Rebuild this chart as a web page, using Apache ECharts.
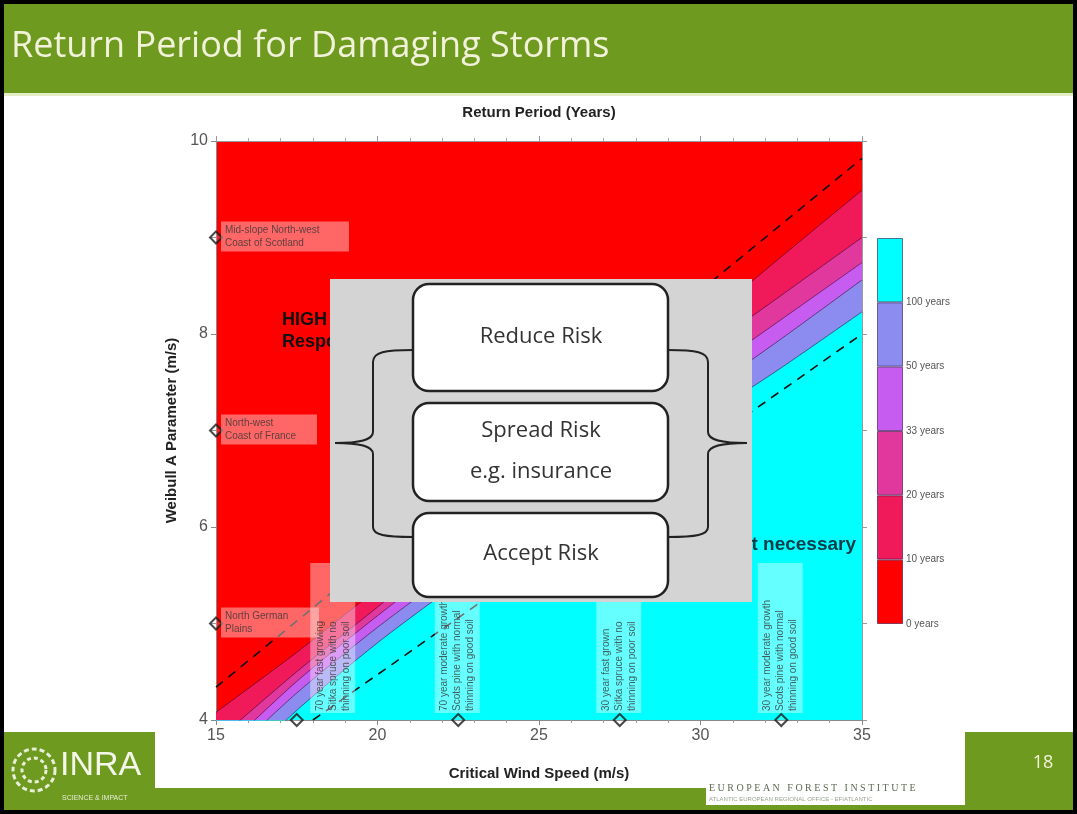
<!DOCTYPE html>
<html>
<head>
<meta charset="utf-8">
<title>Return Period for Damaging Storms</title>
<script src="https://cdn.jsdelivr.net/npm/echarts@6/dist/echarts.min.js"></script>
<style>
  html, body { margin: 0; padding: 0; background: #fff; }
  #chart { width: 1077px; height: 814px; }
</style>
</head>
<body>
<div id="chart"></div>
<script>
// critical wind speeds (m/s) at which the contours were read
var windSpeeds = [15, 17.5, 20, 22.5, 25, 27.5, 30, 32.5, 35];
// Weibull A parameter of each return period contour at those speeds
var contour10 = [4.08, 4.70, 5.36, 6.02, 6.70, 7.40, 8.10, 8.80, 9.49];
var contour20 = [3.78, 4.50, 5.17, 5.85, 6.50, 7.15, 7.80, 8.40, 9.00];
var contour33 = [3.62, 4.40, 5.08, 5.72, 6.34, 6.95, 7.56, 8.15, 8.74];
var contour50 = [3.50, 4.28, 4.96, 5.58, 6.18, 6.77, 7.36, 7.95, 8.56];
var contour100 = [3.30, 4.10, 4.80, 5.42, 5.98, 6.54, 7.10, 7.65, 8.23];
// the two dashed guide lines [wind speed, weibull A]
var upperDashed = [[15, 4.34], [35, 9.82]];
var lowerDashed = [[18, 4.0], [35, 8.0]];
// sites on the weibull axis
var siteNames = ['Mid-slope North-west\nCoast of Scotland', 'North-west\nCoast of France', 'North German\nPlains'];
var siteWeibull = [9, 7, 5];
// stand types on the wind speed axis
var standNames = [
  '70 year fast growing\nSitka spruce with no\nthinning on poor soil',
  '70 year moderate growth\nScots pine with normal\nthinning on good soil',
  '30 year fast grown\nSitka spruce with no\nthinning on poor soil',
  '30 year moderate growth\nScots pine with normal\nthinning on good soil'
];
var standWind = [17.5, 22.5, 27.5, 32.5];
// colour bar tick labels
var bandLabels = ['0 years', '10 years', '20 years', '33 years', '50 years', '100 years'];

var bandColors = ['#ff0000', '#f0195a', '#e0389c', '#c65cf0', '#8c8cf0', '#00ffff'];
var siteBoxWidths = [120, 88, 90];
var axisFont = 'Liberation Sans';

var chart = echarts.init(document.getElementById('chart'));

var contours = [contour10, contour20, contour33, contour50, contour100];
var contourSeries = contours.map(function (c, i) {
  return {
    type: 'line',
    xAxisIndex: 0,
    yAxisIndex: 0,
    data: windSpeeds.map(function (x, j) { return [x, c[j]]; }),
    symbol: 'none',
    smooth: 0.25,
    silent: true,
    lineStyle: { color: 'rgba(50,0,40,0.55)', width: 1 },
    areaStyle: { color: bandColors[i + 1], opacity: 1, origin: 'start' }
  };
});

var dashStyle = { color: '#111', width: 1.6, type: [9, 7] };

var labelText = { fontSize: 10, color: '#363636', fontFamily: axisFont, lineHeight: 13 };

var siteData = siteNames.map(function (n, i) {
  return { name: n, value: [15, siteWeibull[i]], label: { width: siteBoxWidths[i] } };
});
var standData = standNames.map(function (n, i) {
  var item = { name: n, value: [standWind[i], 4] };
  if (i === 0) item.label = { position: [43, 0] };
  return item;
});

var barSeries = bandLabels.map(function (l, i) {
  return {
    type: 'bar',
    xAxisIndex: 2,
    yAxisIndex: 2,
    stack: 'bar',
    barWidth: '100%',
    silent: true,
    data: [1],
    itemStyle: { color: bandColors[i], borderColor: 'rgba(40,0,60,0.55)', borderWidth: 1 }
  };
});

// curly brace drawn from lines and bezier pieces
function brace(xEnd, xBar, xTip, yTop, yMid, yBot) {
  var d = xEnd > xBar ? 1 : -1;
  var st = { fill: 'none', stroke: '#222', lineWidth: 2 };
  return [
    { type: 'bezierCurve', z: 101, shape: { x1: xEnd, y1: yTop, cpx1: xBar + 12 * d, cpy1: yTop, cpx2: xBar, cpy2: yTop + 2, x2: xBar, y2: yTop + 12 }, style: st },
    { type: 'line', z: 101, shape: { x1: xBar, y1: yTop + 12, x2: xBar, y2: yMid - 11 }, style: st },
    { type: 'bezierCurve', z: 101, shape: { x1: xBar, y1: yMid - 11, cpx1: xBar, cpy1: yMid - 3, cpx2: xBar - 13 * d, cpy2: yMid, x2: xTip, y2: yMid }, style: st },
    { type: 'bezierCurve', z: 101, shape: { x1: xTip, y1: yMid, cpx1: xBar - 13 * d, cpy1: yMid, cpx2: xBar, cpy2: yMid + 3, x2: xBar, y2: yMid + 11 }, style: st },
    { type: 'line', z: 101, shape: { x1: xBar, y1: yMid + 11, x2: xBar, y2: yBot - 10 }, style: st },
    { type: 'bezierCurve', z: 101, shape: { x1: xBar, y1: yBot - 10, cpx1: xBar, cpy1: yBot - 2, cpx2: xBar + 12 * d, cpy2: yBot, x2: xEnd, y2: yBot }, style: st }
  ];
}

var option = {
  animation: false,
  textStyle: { fontFamily: axisFont },
  grid: [
    { left: 216, right: 215, top: 141, bottom: 94, show: true, backgroundColor: '#ff0000', borderWidth: 0 },
    { left: 877, top: 238, width: 26, height: 386 }
  ],
  xAxis: [
    {
      type: 'value', gridIndex: 0, min: 15, max: 35, interval: 5, position: 'bottom',
      axisLine: { show: true, lineStyle: { color: '#888' } },
      axisTick: { show: true, length: 5, lineStyle: { color: '#888' } },
      minorTick: { show: true, splitNumber: 5, length: 3, lineStyle: { color: '#999' } },
      splitLine: { show: false },
      axisLabel: { fontSize: 16, color: '#555', margin: 8 },
      name: 'Critical Wind Speed (m/s)', nameLocation: 'middle', nameGap: 46,
      nameTextStyle: { fontSize: 15, fontWeight: 'bold', color: '#222' }
    },
    {
      type: 'value', gridIndex: 0, min: 15, max: 35, interval: 5, position: 'top',
      axisLine: { show: true, lineStyle: { color: '#999' } },
      axisTick: { show: true, length: 5, lineStyle: { color: '#999' } },
      minorTick: { show: true, splitNumber: 5, length: 3, lineStyle: { color: '#aaa' } },
      splitLine: { show: false },
      axisLabel: { show: false },
      name: 'Return Period (Years)', nameLocation: 'middle', nameGap: 21,
      nameTextStyle: { fontSize: 15, fontWeight: 'bold', color: '#222' }
    },
    { type: 'category', gridIndex: 1, data: ['bar'], show: false }
  ],
  yAxis: [
    {
      type: 'value', gridIndex: 0, min: 4, max: 10, interval: 1, position: 'left',
      axisLine: { show: true, lineStyle: { color: '#888' } },
      axisTick: { show: true, length: 5, lineStyle: { color: '#888' } },
      splitLine: { show: false },
      axisLabel: { fontSize: 16, color: '#555', margin: 8, formatter: function (v) { return v % 2 === 0 ? v : ''; } },
      name: 'Weibull A Parameter (m/s)', nameLocation: 'middle', nameGap: 36,
      nameTextStyle: { fontSize: 15, fontWeight: 'bold', color: '#222' }
    },
    {
      type: 'value', gridIndex: 0, min: 4, max: 10, interval: 1, position: 'right',
      axisLine: { show: true, lineStyle: { color: '#999' } },
      axisTick: { show: true, length: 5, lineStyle: { color: '#999' } },
      splitLine: { show: false },
      axisLabel: { show: false }
    },
    {
      type: 'value', gridIndex: 1, min: 0, max: 6, interval: 1, position: 'right',
      axisLine: { show: false }, axisTick: { show: false }, splitLine: { show: false },
      axisLabel: { fontSize: 10, color: '#555', margin: 3, formatter: function (v) { return bandLabels[v] || ''; } }
    }
  ],
  series: contourSeries.concat([
    { type: 'line', data: upperDashed, symbol: 'none', silent: true, lineStyle: dashStyle, z: 3 },
    { type: 'line', data: lowerDashed, symbol: 'none', silent: true, lineStyle: dashStyle, z: 3 },
    {
      type: 'scatter', data: siteData, symbol: 'diamond', symbolSize: 12, clip: false, z: 5,
      itemStyle: { color: 'rgba(255,255,255,0.15)', borderColor: '#1a1a1a', borderWidth: 2 },
      label: Object.assign({
        show: true, position: [12, 6], align: 'left', verticalAlign: 'middle',
        formatter: '{b}', backgroundColor: 'rgba(255,255,255,0.5)', padding: [2, 4]
      }, labelText)
    },
    {
      type: 'scatter', data: standData, symbol: 'diamond', symbolSize: 12, clip: false, z: 5,
      itemStyle: { color: 'rgba(255,255,255,0.15)', borderColor: '#1a1a1a', borderWidth: 2 },
      label: Object.assign({
        show: true, position: [6, 0], align: 'left', verticalAlign: 'middle', rotate: 90,
        formatter: '{b}', backgroundColor: 'rgba(255,255,255,0.5)', padding: [3, 2], width: 146
      }, labelText)
    }
  ]).concat(barSeries),
  graphic: [
    // slide title bar
    { type: 'rect', z: 100, shape: { x: 0, y: 0, width: 1077, height: 93 }, style: { fill: '#6e9a1f' } },
    { type: 'rect', z: 100, shape: { x: 0, y: 93, width: 1077, height: 3 }, style: { fill: '#e4edc4' } },
    { type: 'text', z: 101, style: { text: 'Return Period for Damaging Storms', x: 11, y: 47, fill: '#f2f2da', fontSize: 36, fontFamily: 'Open Sans', textVerticalAlign: 'middle' } },
    // text partly hidden by the overlay
    { type: 'text', z: 50, style: { text: 'HIGH RISK\nResponse necessary', x: 282, y: 309, fill: '#111', fontSize: 18, fontWeight: 'bold', fontFamily: axisFont, lineHeight: 22 } },
    { type: 'text', z: 50, style: { text: 'Response not necessary', x: 856, y: 545, fill: '#0d3b48', fontSize: 19, fontWeight: 'bold', fontFamily: axisFont, textAlign: 'right', textVerticalAlign: 'middle' } },
    // overlay with risk options
    { type: 'rect', z: 100, shape: { x: 330, y: 279, width: 422, height: 323 }, style: { fill: '#d4d4d4' } },
    { type: 'rect', z: 101, shape: { x: 413, y: 284, width: 255, height: 107, r: 16 }, style: { fill: '#fff', stroke: '#222', lineWidth: 2.5 } },
    { type: 'rect', z: 101, shape: { x: 413, y: 403, width: 255, height: 98, r: 16 }, style: { fill: '#fff', stroke: '#222', lineWidth: 2.5 } },
    { type: 'rect', z: 101, shape: { x: 413, y: 513, width: 255, height: 84, r: 16 }, style: { fill: '#fff', stroke: '#222', lineWidth: 2.5 } },
    { type: 'text', z: 102, style: { text: 'Reduce Risk', x: 541, y: 337, fill: '#333', fontSize: 22, fontFamily: 'Open Sans', textAlign: 'center', textVerticalAlign: 'middle' } },
    { type: 'text', z: 102, style: { text: 'Spread Risk', x: 541, y: 431, fill: '#333', fontSize: 22, fontFamily: 'Open Sans', textAlign: 'center', textVerticalAlign: 'middle' } },
    { type: 'text', z: 102, style: { text: 'e.g. insurance', x: 541, y: 472, fill: '#333', fontSize: 22, fontFamily: 'Open Sans', textAlign: 'center', textVerticalAlign: 'middle' } },
    { type: 'text', z: 102, style: { text: 'Accept Risk', x: 541, y: 554, fill: '#333', fontSize: 22, fontFamily: 'Open Sans', textAlign: 'center', textVerticalAlign: 'middle' } }
  ].concat(brace(413, 373, 335, 350, 443, 537), brace(668, 708, 747, 350, 443, 537), [
    // footer
    { type: 'rect', z: 100, shape: { x: 0, y: 732, width: 155, height: 82 }, style: { fill: '#6e9a1f' } },
    { type: 'rect', z: 100, shape: { x: 965, y: 732, width: 112, height: 82 }, style: { fill: '#6e9a1f' } },
    { type: 'rect', z: 99, shape: { x: 155, y: 788, width: 810, height: 26 }, style: { fill: '#6e9a1f' } },
    { type: 'rect', z: 101, shape: { x: 706, y: 778, width: 259, height: 27 }, style: { fill: '#fff' } },
    { type: 'text', z: 102, style: { text: 'E U R O P E A N   F O R E S T   I N S T I T U T E', x: 709, y: 788, fill: '#5b6b52', fontSize: 10, fontFamily: 'Liberation Serif', textVerticalAlign: 'middle' } },
    { type: 'text', z: 102, style: { text: 'ATLANTIC EUROPEAN REGIONAL OFFICE - EFIATLANTIC', x: 709, y: 799, fill: '#9aa394', fontSize: 6, fontFamily: axisFont, textVerticalAlign: 'middle' } },
    { type: 'text', z: 101, style: { text: '18', x: 1043, y: 763, fill: '#f2f2da', fontSize: 18, fontFamily: 'Open Sans', textAlign: 'center', textVerticalAlign: 'middle' } },
    { type: 'circle', z: 101, shape: { cx: 34, cy: 770, r: 21 }, style: { fill: 'none', stroke: '#e8eed8', lineWidth: 3, lineDash: [5, 3] } },
    { type: 'circle', z: 101, shape: { cx: 34, cy: 770, r: 12 }, style: { fill: 'none', stroke: '#e8eed8', lineWidth: 3, lineDash: [4, 3] } },
    { type: 'text', z: 101, style: { text: 'INRA', x: 60, y: 766, fill: '#f4f6ea', fontSize: 34, fontFamily: 'Liberation Sans Narrow, Liberation Sans', textVerticalAlign: 'middle' } },
    { type: 'text', z: 101, style: { text: 'SCIENCE & IMPACT', x: 62, y: 798, fill: '#e8eed8', fontSize: 7, fontFamily: axisFont, textVerticalAlign: 'middle' } },
    // slide frame
    { type: 'rect', z: 110, shape: { x: 2, y: 2, width: 1073, height: 810 }, style: { fill: 'none', stroke: '#000', lineWidth: 4 } }
  ])
};

chart.setOption(option);
</script>
</body>
</html>
